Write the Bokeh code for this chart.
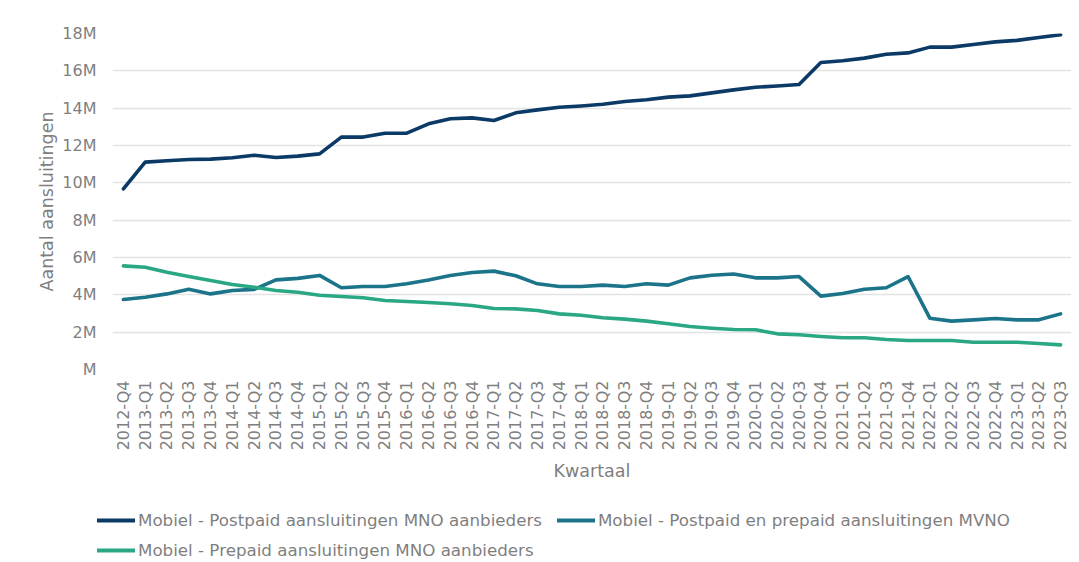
import math
from bokeh.plotting import figure
from bokeh.layouts import column
from bokeh.models import (FactorRange, Range1d, FixedTicker, CustomJSTickFormatter,
                          Legend, LegendItem, ColumnDataSource)
from bokeh.embed import file_html
from bokeh.resources import INLINE

quarters = [
    "2012-Q4",
    "2013-Q1", "2013-Q2", "2013-Q3", "2013-Q4",
    "2014-Q1", "2014-Q2", "2014-Q3", "2014-Q4",
    "2015-Q1", "2015-Q2", "2015-Q3", "2015-Q4",
    "2016-Q1", "2016-Q2", "2016-Q3", "2016-Q4",
    "2017-Q1", "2017-Q2", "2017-Q3", "2017-Q4",
    "2018-Q1", "2018-Q2", "2018-Q3", "2018-Q4",
    "2019-Q1", "2019-Q2", "2019-Q3", "2019-Q4",
    "2020-Q1", "2020-Q2", "2020-Q3", "2020-Q4",
    "2021-Q1", "2021-Q2", "2021-Q3", "2021-Q4",
    "2022-Q1", "2022-Q2", "2022-Q3", "2022-Q4",
    "2023-Q1", "2023-Q2", "2023-Q3",
]

# values in millions of connections
postpaid_mno = [
    9.68,
    11.11, 11.18, 11.25, 11.27,
    11.34, 11.48, 11.36, 11.43,
    11.55, 12.45, 12.45, 12.66,
    12.66, 13.16, 13.43, 13.48,
    13.34, 13.75, 13.91, 14.05,
    14.12, 14.21, 14.36, 14.45,
    14.59, 14.66, 14.82, 14.98,
    15.12, 15.19, 15.27, 16.45,
    16.54, 16.68, 16.89, 16.96,
    17.27, 17.27, 17.41, 17.55,
    17.63, 17.79, 17.93,
]

mvno = [
    3.75,
    3.87, 4.05, 4.30, 4.05,
    4.23, 4.29, 4.80, 4.88,
    5.04, 4.38, 4.45, 4.45,
    4.59, 4.80, 5.04, 5.20,
    5.27, 5.02, 4.59, 4.45,
    4.45, 4.52, 4.45, 4.59,
    4.52, 4.91, 5.05, 5.12,
    4.91, 4.91, 4.98, 3.93,
    4.07, 4.30, 4.38, 4.98,
    2.75, 2.59, 2.66, 2.73,
    2.66, 2.66, 2.98,
]

prepaid_mno = [
    5.55,
    5.48, 5.21, 4.98, 4.77,
    4.55, 4.41, 4.23, 4.14,
    3.98, 3.91, 3.84, 3.70,
    3.64, 3.59, 3.52, 3.43,
    3.27, 3.25, 3.16, 2.98,
    2.91, 2.77, 2.70, 2.59,
    2.45, 2.30, 2.21, 2.14,
    2.13, 1.91, 1.86, 1.77,
    1.70, 1.70, 1.61, 1.55,
    1.55, 1.55, 1.46, 1.46,
    1.46, 1.39, 1.32,
]

series_names = [
    "Mobiel - Postpaid aansluitingen MNO aanbieders",
    "Mobiel - Postpaid en prepaid aansluitingen MVNO",
    "Mobiel - Prepaid aansluitingen MNO aanbieders",
]
series_colors = ["#0b3a66", "#1b7489", "#2aa784"]
y_ticks = [0, 2, 4, 6, 8, 10, 12, 14, 16, 18]

FONT = "DejaVu Sans"
TXT = "#7f7f7f"

MAIN_H = 493
LEG_H = 67

p = figure(
    x_range=FactorRange(factors=quarters, range_padding=0),
    y_range=Range1d(0, 18),
    width=1071, height=MAIN_H,
    output_backend="svg", toolbar_location=None,
    min_border_left=112, min_border_right=0,
    min_border_top=33, min_border_bottom=MAIN_H - 369,
)
p.outline_line_color = None
p.background_fill_color = "white"
p.border_fill_color = "white"

src = ColumnDataSource(dict(q=quarters, a=postpaid_mno, b=mvno, c=prepaid_mno))
for col, color in zip(["a", "b", "c"], series_colors):
    p.line(x="q", y=col, source=src, line_color=color, line_width=3.6,
           line_join="round", line_cap="round")

# grid
p.xgrid.grid_line_color = None
p.ygrid.grid_line_color = "#e3e3e3"
p.ygrid.grid_line_width = 1.5
p.yaxis.ticker = FixedTicker(ticks=y_ticks)
p.yaxis.formatter = CustomJSTickFormatter(code="return (tick == 0 ? '' : tick) + 'M';")

for ax in (p.xaxis[0], p.yaxis[0]):
    ax.axis_line_color = None
    ax.major_tick_line_color = None
    ax.minor_tick_line_color = None
    ax.major_tick_out = 0
    ax.major_tick_in = 0
    ax.minor_tick_out = 0
    ax.major_label_text_font = FONT
    ax.major_label_text_color = TXT
    ax.axis_label_text_font = FONT
    ax.axis_label_text_color = TXT
    ax.axis_label_text_font_style = "normal"
    ax.axis_label_text_font_size = "17.5px"

p.yaxis.major_label_text_font_size = "16px"
p.yaxis.major_label_standoff = 16
p.yaxis.axis_label = "Aantal aansluitingen"
p.yaxis.axis_label_standoff = 2

p.xaxis.major_label_text_font_size = "16px"
p.xaxis.major_label_orientation = math.pi / 2
p.xaxis.major_label_standoff = 11
p.xaxis.axis_label = "Kwartaal"
p.xaxis.axis_label_standoff = 8

# legend strip below the chart (lines drawn far outside its visible y range)
lg = figure(
    x_range=FactorRange(factors=quarters, range_padding=0),
    y_range=Range1d(100, 101),
    width=1071, height=LEG_H,
    output_backend="svg", toolbar_location=None,
    min_border=0, x_axis_type=None, y_axis_type=None,
)
lg.outline_line_color = None
lg.grid.visible = False
lg_renderers = [lg.line(x="q", y=col, source=src, line_color=c, line_width=4, line_cap="round")
                for col, c in zip(["a", "b", "c"], series_colors)]

aligned_off = True
try:
    p.frame_align = False
    lg.frame_align = False
except Exception:
    aligned_off = False

x0 = 97 if aligned_off else 0

common = dict(
    orientation="horizontal",
    padding=0, margin=0, spacing=15,
    border_line_color=None, background_fill_alpha=0,
    glyph_width=38, glyph_height=20, label_height=20,
    label_standoff=3,
    label_text_font=FONT, label_text_font_size="16.7px", label_text_color=TXT,
)
leg1 = Legend(items=[LegendItem(label=series_names[i], renderers=[lg_renderers[i]]) for i in (0, 1)],
              location=(x0, 30), **common)
leg2 = Legend(items=[LegendItem(label=series_names[2], renderers=[lg_renderers[2]])],
              location=(x0, 0), **common)
lg.add_layout(leg1, "center")
lg.add_layout(leg2, "center")

layout = column(p, lg, spacing=0)
open("out.html", "w").write(file_html(layout, INLINE))
